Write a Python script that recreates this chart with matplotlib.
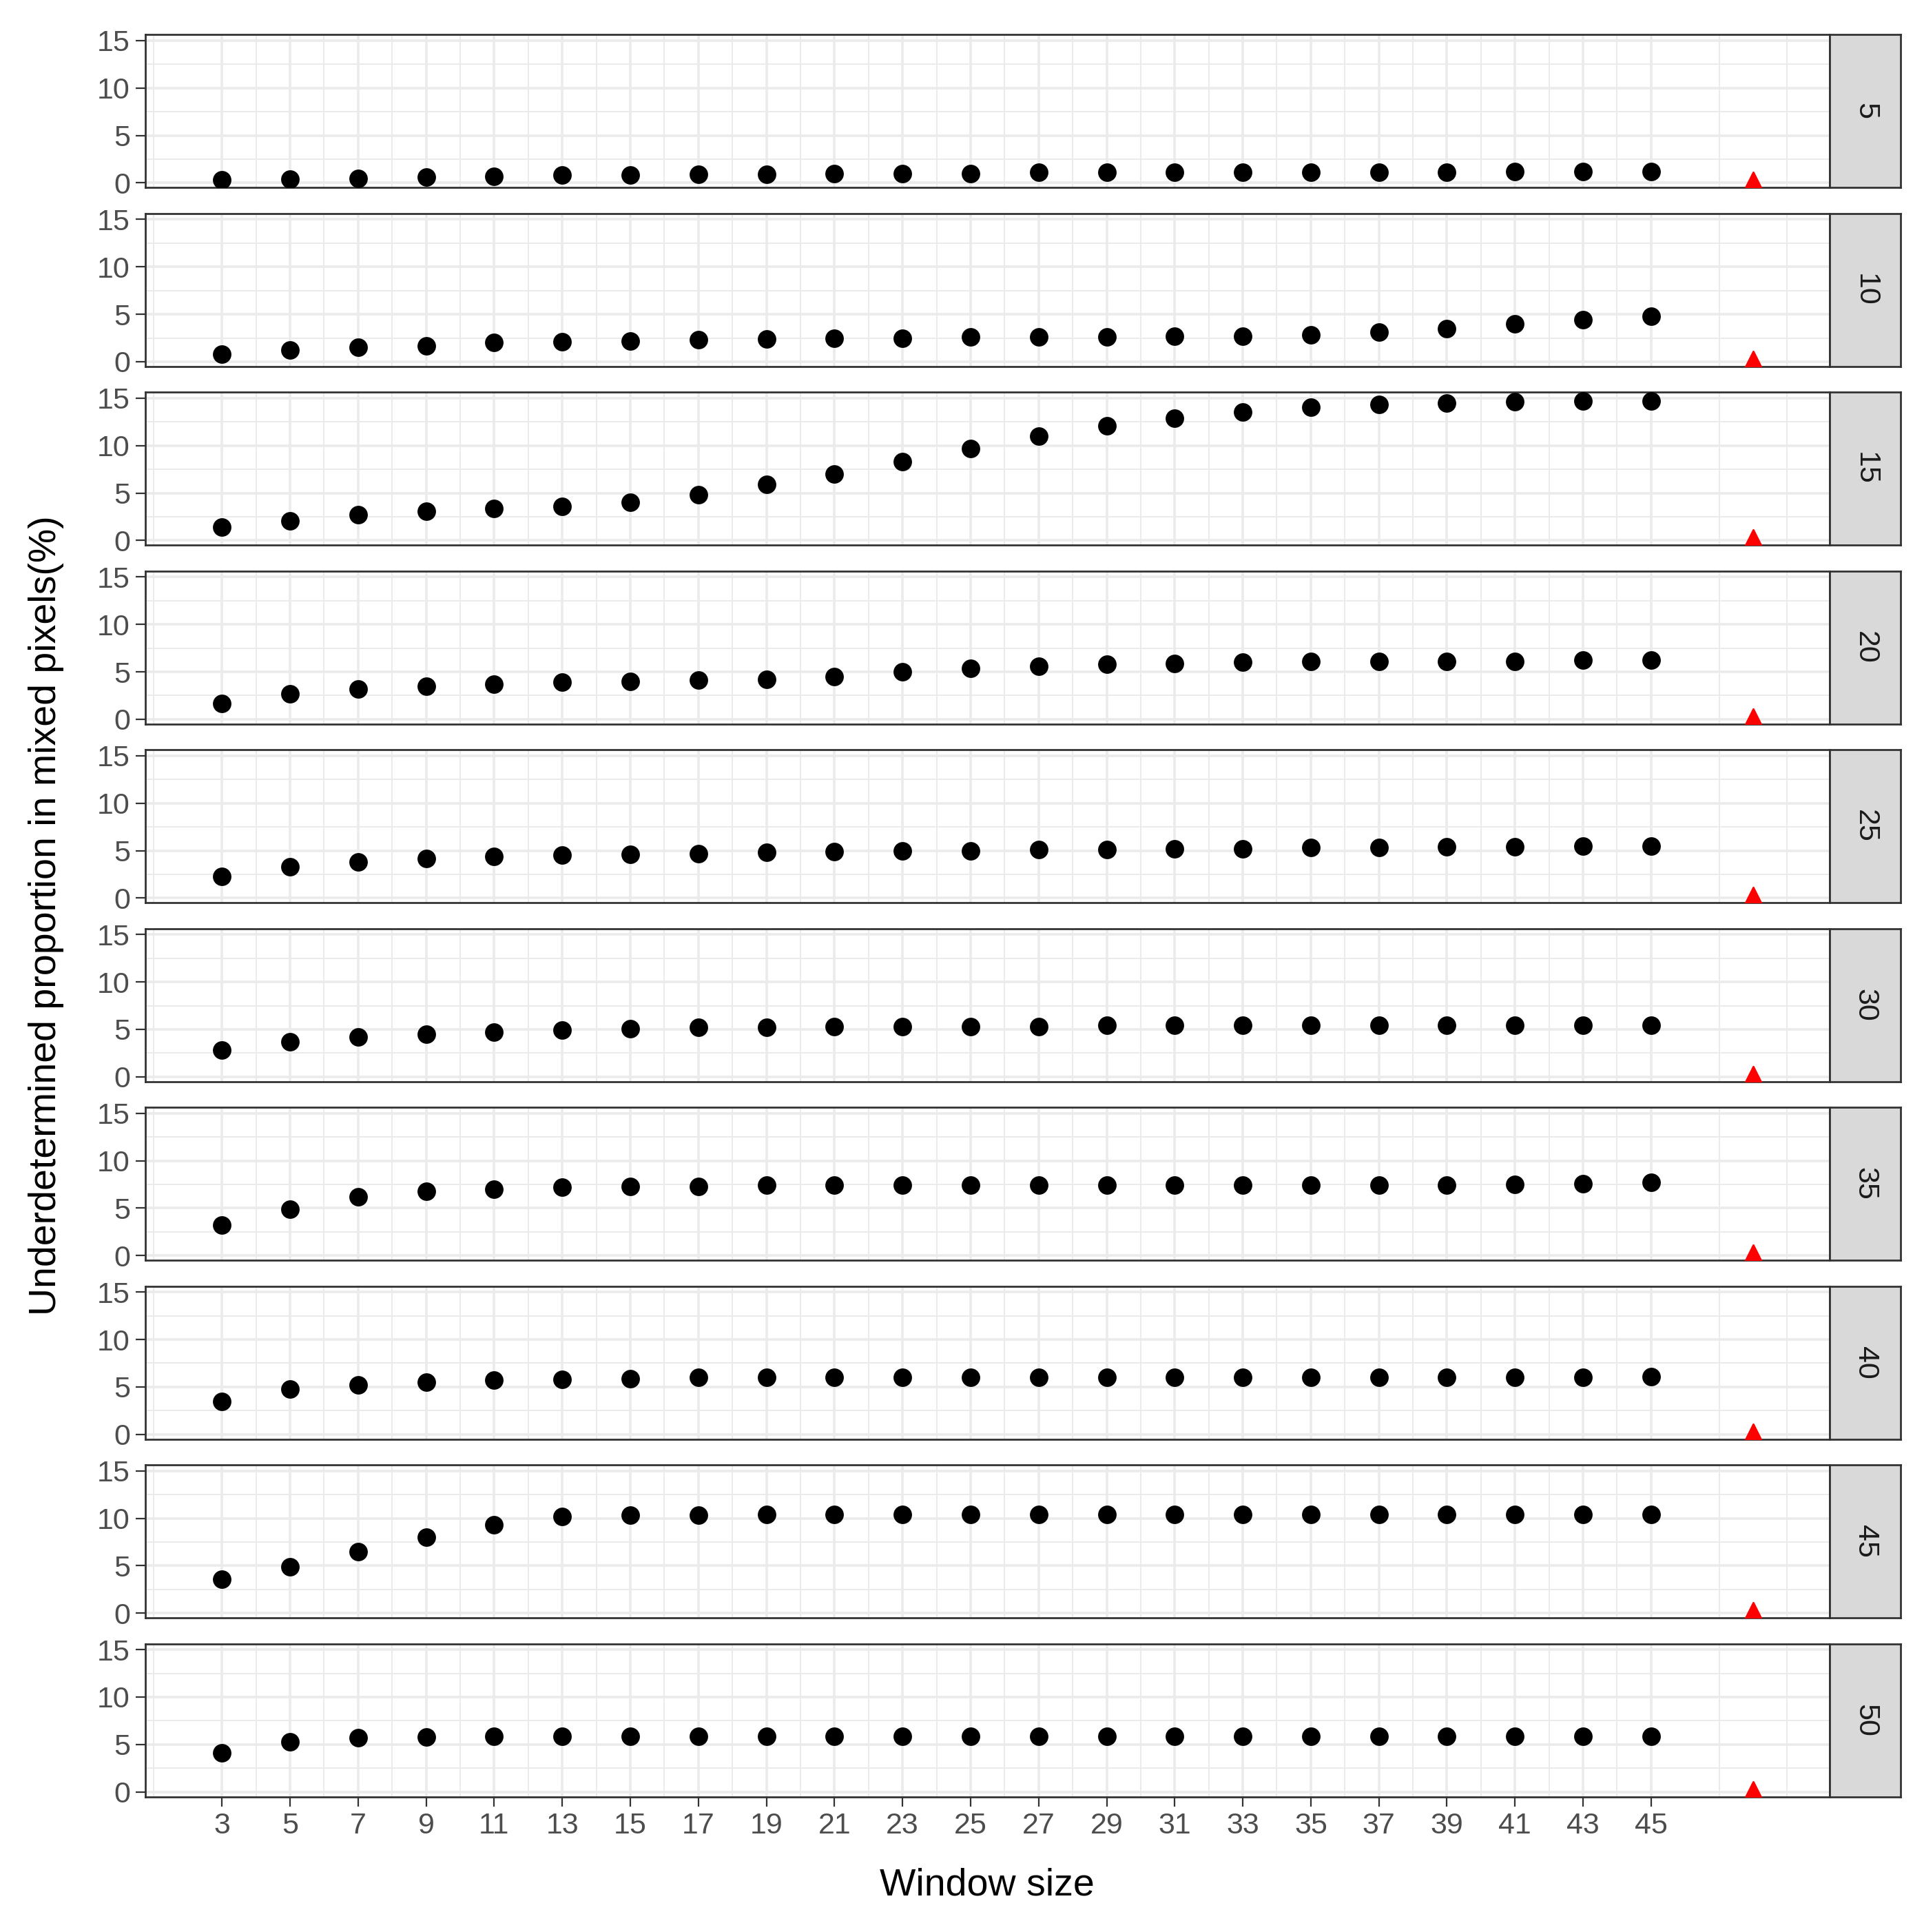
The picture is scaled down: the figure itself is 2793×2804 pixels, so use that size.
import matplotlib
matplotlib.use("Agg")
import matplotlib.pyplot as plt
import numpy as np

plt.rcParams['font.family'] = ['Liberation Sans', 'DejaVu Sans']

window = list(range(3, 46, 2))
facets = [5, 10, 15, 20, 25, 30, 35, 40, 45, 50]
vals = {
5:[0.3,0.4,0.5,0.6,0.7,0.8,0.8,0.9,0.9,1.0,1.0,1.0,1.1,1.1,1.1,1.1,1.1,1.1,1.1,1.2,1.2,1.2],
10:[0.8,1.2,1.5,1.7,2.0,2.1,2.2,2.3,2.4,2.5,2.5,2.6,2.6,2.6,2.7,2.7,2.8,3.1,3.5,4.0,4.4,4.8],
15:[1.4,2.1,2.7,3.1,3.4,3.6,4.0,4.8,5.9,7.0,8.3,9.7,11.0,12.1,12.9,13.5,14.0,14.3,14.5,14.6,14.7,14.7],
20:[1.7,2.7,3.2,3.5,3.7,3.9,4.0,4.1,4.2,4.5,5.0,5.4,5.6,5.8,5.9,6.0,6.1,6.1,6.1,6.1,6.2,6.2],
25:[2.3,3.3,3.8,4.2,4.4,4.5,4.6,4.7,4.8,4.9,5.0,5.0,5.1,5.1,5.2,5.2,5.3,5.3,5.4,5.4,5.5,5.5],
30:[2.8,3.7,4.2,4.5,4.7,4.9,5.1,5.2,5.2,5.3,5.3,5.3,5.3,5.4,5.4,5.4,5.4,5.4,5.4,5.4,5.4,5.4],
35:[3.2,4.9,6.2,6.8,7.0,7.2,7.3,7.3,7.4,7.4,7.4,7.4,7.4,7.4,7.4,7.4,7.4,7.4,7.4,7.5,7.6,7.7],
40:[3.5,4.8,5.2,5.5,5.7,5.8,5.9,6.0,6.0,6.0,6.0,6.0,6.0,6.0,6.0,6.0,6.0,6.0,6.0,6.0,6.0,6.1],
45:[3.6,4.9,6.5,8.0,9.3,10.2,10.3,10.3,10.4,10.4,10.4,10.4,10.4,10.4,10.4,10.4,10.4,10.4,10.4,10.4,10.4,10.4],
50:[4.1,5.3,5.7,5.8,5.9,5.9,5.9,5.9,5.9,5.9,5.9,5.9,5.9,5.9,5.9,5.9,5.9,5.9,5.9,5.9,5.9,5.9],
}
tri_x = 48
tri_y = 0

fig = plt.figure(figsize=(13.965, 14.02), dpi=200)
left, right, strip_r = 0.0756, 0.951, 0.988
top, bottom = 0.982, 0.070
n = len(facets)
gap = 0.0134
h = (top - bottom - gap*(n-1)) / n
for i, f in enumerate(facets):
    y0 = top - (i+1)*h - i*gap
    ax = fig.add_axes([left, y0, right-left, h])
    ax.set_facecolor("white")
    ax.set_xlim(0.75, 50.25)
    ax.set_ylim(-0.5, 15.6)
    ax.set_xticks(window)
    ax.set_xticks([w+1 for w in window[:-1]] + [1, 47, 49], minor=True)
    ax.set_yticks([0, 5, 10, 15])
    ax.set_yticks([2.5, 7.5, 12.5], minor=True)
    ax.grid(True, which="major", color="#ebebeb", lw=1.3)
    ax.grid(True, which="minor", color="#ebebeb", lw=0.7)
    ax.set_axisbelow(True)
    ax.scatter(window, vals[f], s=75, color="black", zorder=3)
    ax.scatter([tri_x], [tri_y], marker="^", s=120, color="red", zorder=3)
    for sp in ax.spines.values():
        sp.set_color("#333333"); sp.set_linewidth(1.0)
    ax.tick_params(which="minor", length=0)
    ax.tick_params(which="major", length=5, color="#333333", labelsize=15.5,
                   labelcolor="#4d4d4d", pad=3)
    if i < n-1:
        ax.tick_params(axis="x", labelbottom=False, length=0)
    sax = fig.add_axes([right, y0, strip_r-right, h])
    sax.set_facecolor("#d9d9d9")
    sax.set_xticks([]); sax.set_yticks([])
    for sp in sax.spines.values():
        sp.set_color("#333333"); sp.set_linewidth(1.0)
    sax.text(0.5, 0.5, str(f), rotation=-90, ha="center", va="center",
             fontsize=15.5, color="#1a1a1a", transform=sax.transAxes)

fig.text(0.513, 0.024, "Window size", ha="center", va="center", fontsize=20)
fig.text(0.024, (top+bottom)/2, "Underdetermined proportion in mixed pixels(%)",
         rotation=90, ha="center", va="center", fontsize=20)
fig.savefig("out.png", dpi=200)
